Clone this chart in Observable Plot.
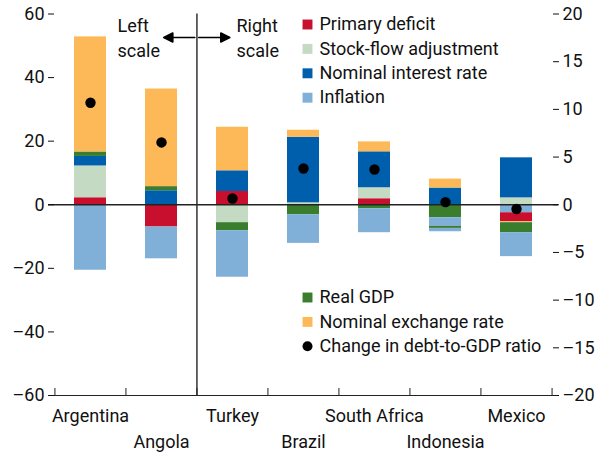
<!DOCTYPE html>
<html>
<head>
<meta charset="utf-8">
<script src="https://cdn.jsdelivr.net/npm/d3@7"></script>
<script src="https://cdn.jsdelivr.net/npm/@observablehq/plot@0.6"></script>
<style>
  html, body { margin: 0; padding: 0; background: #fff; overflow: hidden; }
</style>
</head>
<body>
<div id="chart"></div>
<script>
// ---- Data ----
const countries = ["Argentina", "Angola", "Turkey", "Brazil", "South Africa", "Indonesia", "Mexico"];
// Argentina and Angola are read on the left scale, the others on the right scale
const scaleSide = ["left", "left", "right", "right", "right", "right", "right"];

const primaryDeficit = [2.2, -7.0, 1.39, 0, 0.63, 0, -0.94];
const stockFlow      = [10.0, 0, -1.88, 0.2, 1.15, 0, 0.72];
const interestRate   = [3.0, 4.4, 2.17, 6.88, 3.77, 1.75, 4.2];
const inflation      = [-20.6, -10.0, -4.88, -3.0, -2.51, -0.91, -2.51];
const realGDP        = [1.4, 1.3, -0.84, -1.05, -0.42, -1.36, -1.05];
const exchangeRate   = [36.2, 30.7, 4.57, 0.73, 1.04, 0.94, 0];
const debtChange     = [32.1, 19.6, 0.65, 3.8, 3.7, 0.28, -0.45];
// small extra slivers drawn separately in the source
const inflationLead  = [0, 0, 0, 0, 0, 0, -0.84];
const exchangeLead   = [0, 0, 0, 0, 0, 0, -0.1];
const realGDPTail    = [0, 0, 0, 0, 0, -0.21, 0];
const inflationTail  = [0, 0, 0, 0, 0, -0.35, 0];

const seriesNames  = ["Primary deficit", "Stock-flow adjustment", "Nominal interest rate", "Inflation", "Real GDP", "Nominal exchange rate"];
const seriesColors = ["#c8102e", "#c5dac2", "#005fad", "#80afd8", "#3a7d2c", "#fdb957"];
const legendTop    = ["Primary deficit", "Stock-flow adjustment", "Nominal interest rate", "Inflation"];
const legendBottom = ["Real GDP", "Nominal exchange rate"];
const dotLabel     = "Change in debt-to-GDP ratio";
const leftTicks    = [-60, -40, -20, 0, 20, 40, 60];
const rightTicks   = [-20, -15, -10, -5, 0, 5, 10, 15, 20];

// ---- Build stacked rows ----
const rightFactor = 3; // left scale units per right scale unit
const factor = i => scaleSide[i] === "right" ? rightFactor : 1;
const stackOrder = [
  ["Inflation", inflationLead],
  ["Primary deficit", primaryDeficit],
  ["Stock-flow adjustment", stockFlow],
  ["Nominal interest rate", interestRate],
  ["Nominal exchange rate", exchangeLead],
  ["Real GDP", realGDP],
  ["Nominal exchange rate", exchangeRate],
  ["Inflation", inflation],
  ["Real GDP", realGDPTail],
  ["Inflation", inflationTail]
];
const rows = [];
countries.forEach((c, i) => {
  for (const [name, arr] of stackOrder) {
    if (arr[i] !== 0) rows.push({country: c, series: name, value: arr[i] * factor(i)});
  }
});
const dots = countries.map((c, i) => ({country: c, value: debtChange[i] * factor(i)}));

// ---- Layout ----
const W = 605, H = 456, mL = 54, mR = 53, mT = 13.5, mB = 61;
const step = (W - mL - mR) / countries.length;
const fmt = v => (v < 0 ? "\u2013" + Math.abs(v) : String(v));
const rowGap = 24.4;

const filledArrow = {
  draw(ctx, l) {
    const h = 9, w = 4.5;
    ctx.moveTo(0, 0);
    ctx.lineTo(0, -(l - h));
    ctx.moveTo(0, -l);
    ctx.lineTo(-w, -l + h);
    ctx.lineTo(w, -l + h);
    ctx.closePath();
  }
};

const legendMarks = [];
const addLegendRow = (name, dy, isDot) => {
  legendMarks.push(isDot
    ? Plot.dot([name], {frameAnchor: "top-left", dx: 253, dy, r: 5, fill: "black"})
    : Plot.dot([name], {frameAnchor: "top-left", dx: 253, dy, symbol: "square", r: 5.6, fill: seriesColors[seriesNames.indexOf(name)], stroke: null}));
  legendMarks.push(Plot.text([name], {frameAnchor: "top-left", dx: 265, dy, text: d => d, textAnchor: "start", lineAnchor: "middle"}));
};
legendTop.forEach((name, i) => addLegendRow(name, 10.5 + i * rowGap, false));
legendBottom.forEach((name, i) => addLegendRow(name, 283.5 + i * rowGap, false));
addLegendRow(dotLabel, 283.5 + 2 * rowGap, true);

const chart = Plot.plot({
  width: W, height: H,
  marginLeft: mL, marginRight: mR, marginTop: mT, marginBottom: mB,
  style: {fontFamily: "Roboto, 'Liberation Sans', sans-serif", fontSize: "18px", color: "#111", background: "#fff"},
  x: {domain: countries, paddingInner: 0.55, paddingOuter: 0.275, label: null},
  y: {domain: [-60, 60], label: null},
  color: {domain: seriesNames, range: seriesColors},
  marks: [
    // divider between left-scale and right-scale countries
    Plot.ruleX(["Turkey"], {dx: -step / 2, stroke: "#333", strokeWidth: 1.5}),
    Plot.barY(rows, {x: "country", y: "value", fill: "series"}),
    // zero line and bottom axis line
    Plot.ruleY([0], {stroke: "#222", strokeWidth: 1.3, insetLeft: -6, insetRight: -6}),
    Plot.ruleY([-60], {stroke: "#222", strokeWidth: 1, insetLeft: -6, insetRight: -6}),
    // category separator ticks pointing up
    Plot.ruleX(countries, {dx: -step / 2, y1: -60, y2: -60, insetTop: -7, stroke: "#222"}),
    Plot.ruleX([countries[countries.length - 1]], {dx: step / 2, y1: -60, y2: -60, insetTop: -7, stroke: "#222"}),
    Plot.dot(dots, {x: "country", y: "value", r: 5.2, fill: "black"}),
    // axes
    Plot.axisY(leftTicks, {anchor: "left", tickSize: 6, tickPadding: 4, tickFormat: fmt, label: null}),
    Plot.axisY(rightTicks.map(v => v * rightFactor), {anchor: "right", tickSize: 6, tickPadding: 4, tickFormat: v => fmt(v / rightFactor), label: null}),
    Plot.axisX(countries.filter((d, i) => i % 2 === 0), {anchor: "bottom", tickSize: 0, tickPadding: 14, label: null}),
    Plot.axisX(countries.filter((d, i) => i % 2 === 1), {anchor: "bottom", tickSize: 0, tickPadding: 40, label: null}),
    // scale annotations
    Plot.text(["Left\nscale"], {frameAnchor: "top-left", dx: 63, dy: 22.5, text: d => d, textAnchor: "start", lineAnchor: "middle", lineHeight: 1.36}),
    Plot.text(["Right\nscale"], {frameAnchor: "top-left", dx: 182, dy: 22.5, text: d => d, textAnchor: "start", lineAnchor: "middle", lineHeight: 1.36}),
    Plot.vector(["left"], {frameAnchor: "top-left", dx: 2 * step - 2, dy: 23.5, length: 31, rotate: -90, anchor: "start", shape: filledArrow, stroke: "black", fill: "black", strokeWidth: 1.6}),
    Plot.vector(["right"], {frameAnchor: "top-left", dx: 2 * step + 2, dy: 23.5, length: 31, rotate: 90, anchor: "start", shape: filledArrow, stroke: "black", fill: "black", strokeWidth: 1.6}),
    ...legendMarks
  ]
});
document.getElementById("chart").appendChild(chart);
</script>
</body>
</html>
